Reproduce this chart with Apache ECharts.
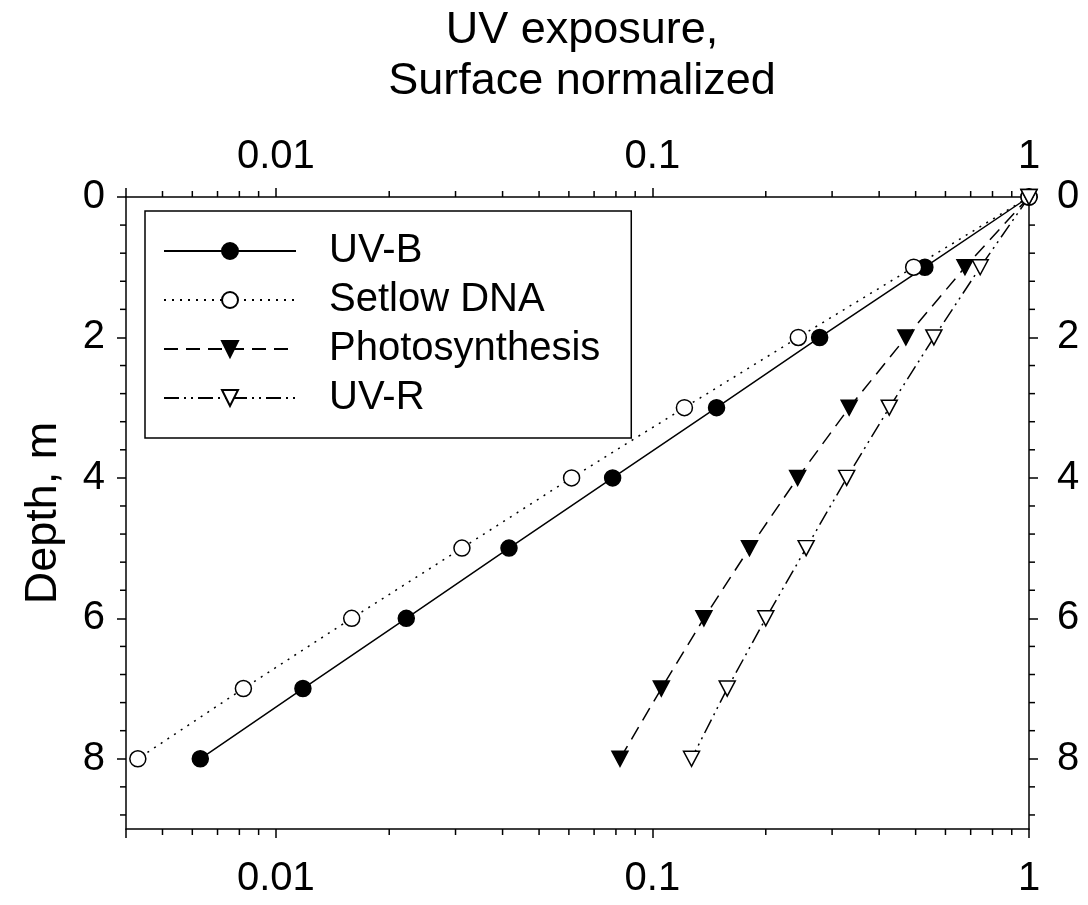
<!DOCTYPE html>
<html>
<head>
<meta charset="utf-8">
<title>UV exposure vs depth</title>
<script src="https://cdn.jsdelivr.net/npm/echarts@6/dist/echarts.min.js"></script>
<style>
  html, body { margin: 0; padding: 0; background: #fff; }
  #chart { width: 1088px; height: 905px; }
</style>
</head>
<body>
<div id="chart"></div>
<script>
// Depth below the surface (m) for every profile point
const depths = [0, 1, 2, 3, 4, 5, 6, 7, 8];

// Exposure relative to the surface value, one list per spectral weighting
const uvB = [1, 0.529, 0.278, 0.148, 0.0784, 0.0416, 0.0222, 0.0118, 0.0063];
const setlowDNA = [1, 0.494, 0.244, 0.1216, 0.061, 0.0312, 0.0159, 0.0082, 0.0043];
const photosynthesis = [1, 0.676, 0.471, 0.333, 0.243, 0.181, 0.137, 0.1056, 0.082];
const uvR = [1, 0.742, 0.559, 0.4255, 0.328, 0.256, 0.200, 0.158, 0.127];

const seriesNames = ['UV-B', 'Setlow DNA', 'Photosynthesis', 'UV-R'];

// Axis ranges and labelled ticks
const xMin = 0.004, xMax = 1;
const xTickValues = [0.01, 0.1, 1];
const xTickLabels = ['0.01', '0.1', '1'];
const yMin = 0, yMax = 9;
const yTickValues = [0, 2, 4, 6, 8];
const yTickLabels = ['0', '2', '4', '6', '8'];

// Unlabelled minor tick positions
const xMinorTicks = [];
[0.001, 0.01, 0.1].forEach(function (dec) {
  for (let k = 2; k <= 9; k++) {
    const v = +(k * dec).toPrecision(3);
    if (v > xMin && v < xMax && xTickValues.indexOf(v) < 0) xMinorTicks.push(v);
  }
});
const yMinorTicks = [];
for (let i = 1; i * 0.4 < yMax; i++) {
  if (i % 5 !== 0) yMinorTicks.push(+(i * 0.4).toFixed(1));
}

const FONT = '"Liberation Sans", Arial, Helvetica, sans-serif';
const BLACK = '#000';
const LINE_W = 1.5;
const TICK_FONT = 40;

function pairs(values) {
  return values.map(function (v, i) { return [v, depths[i]]; });
}

function xLabel(v) {
  for (let i = 0; i < xTickValues.length; i++) {
    if (Math.abs(Math.log10(v) - Math.log10(xTickValues[i])) < 1e-6) return xTickLabels[i];
  }
  return '';
}
function yLabel(v) {
  const i = yTickValues.indexOf(v);
  return i >= 0 ? yTickLabels[i] : '';
}

function makeXAxis(position, margin) {
  return {
    type: 'log',
    logBase: 10,
    position: position,
    min: xMin,
    max: xMax,
    axisLine: { show: true, onZero: false, lineStyle: { color: BLACK, width: LINE_W } },
    axisTick: { show: true, inside: false, length: 9, lineStyle: { color: BLACK, width: LINE_W } },
    minorTick: { show: false },
    axisLabel: {
      show: true, margin: margin, color: BLACK, fontSize: TICK_FONT, fontFamily: FONT,
      formatter: xLabel, showMinLabel: true, showMaxLabel: true, hideOverlap: false
    },
    splitLine: { show: false }
  };
}

function makeYAxis(position, margin, named) {
  const ax = {
    type: 'value',
    position: position,
    inverse: true,
    min: yMin,
    max: yMax,
    axisLine: { show: true, onZero: false, lineStyle: { color: BLACK, width: LINE_W } },
    axisTick: { show: true, inside: false, length: 9, customValues: yTickValues, lineStyle: { color: BLACK, width: LINE_W } },
    axisLabel: {
      show: true, margin: margin, color: BLACK, fontSize: TICK_FONT, fontFamily: FONT,
      customValues: yTickValues, formatter: yLabel
    },
    splitLine: { show: false }
  };
  if (named) {
    ax.name = 'Depth, m';
    ax.nameLocation = 'middle';
    ax.nameRotate = 90;
    ax.nameGap = 60;
    ax.nameTextStyle = { fontSize: 45, color: BLACK, fontFamily: FONT };
  }
  return ax;
}

function lineSeries(name, values, symbol, rotate, fill, dash) {
  return {
    name: name,
    type: 'line',
    data: pairs(values),
    xAxisIndex: 0,
    yAxisIndex: 0,
    symbol: symbol,
    symbolSize: symbol === 'circle' ? 16 : [16, 15],
    symbolRotate: rotate,
    showAllSymbol: true,
    clip: false,
    silent: true,
    animation: false,
    lineStyle: { color: BLACK, width: LINE_W, type: dash, cap: 'butt' },
    itemStyle: { color: fill, borderColor: BLACK, borderWidth: LINE_W, opacity: 1 },
    emphasis: { disabled: true },
    z: 3
  };
}

// Minor ticks drawn at positions given by the axes' own scales
const minorLen = 6;
const xMinorSeries = {
  type: 'custom',
  xAxisIndex: 0,
  yAxisIndex: 0,
  silent: true,
  animation: false,
  clip: false,
  data: xMinorTicks.map(function (v) { return [v, yMin]; }),
  renderItem: function (params, api) {
    const v = api.value(0);
    const t = api.coord([v, yMin]);
    const b = api.coord([v, yMax]);
    const st = { stroke: BLACK, lineWidth: LINE_W };
    return {
      type: 'group',
      children: [
        { type: 'line', shape: { x1: t[0], y1: t[1], x2: t[0], y2: t[1] - minorLen }, style: st },
        { type: 'line', shape: { x1: b[0], y1: b[1], x2: b[0], y2: b[1] + minorLen }, style: st }
      ]
    };
  },
  z: 1
};
const yMinorSeries = {
  type: 'custom',
  xAxisIndex: 0,
  yAxisIndex: 0,
  silent: true,
  animation: false,
  clip: false,
  data: yMinorTicks.map(function (d) { return [xMax, d]; }),
  renderItem: function (params, api) {
    const d = api.value(1);
    const l = api.coord([xMin, d]);
    const r = api.coord([xMax, d]);
    const st = { stroke: BLACK, lineWidth: LINE_W };
    return {
      type: 'group',
      children: [
        { type: 'line', shape: { x1: l[0], y1: l[1], x2: l[0] - minorLen, y2: l[1] }, style: st },
        { type: 'line', shape: { x1: r[0], y1: r[1], x2: r[0] + minorLen, y2: r[1] }, style: st }
      ]
    };
  },
  z: 1
};

const chart = echarts.init(document.getElementById('chart'), null, { renderer: 'canvas' });

chart.setOption({
  animation: false,
  backgroundColor: '#fff',
  title: {
    text: 'UV exposure,\nSurface normalized',
    left: 577,
    top: 0,
    textAlign: 'center',
    textStyle: { fontSize: 45, fontWeight: 'normal', color: BLACK, fontFamily: FONT, lineHeight: 51 }
  },
  grid: { left: 126, right: 59, top: 197, bottom: 76, containLabel: false },
  legend: {
    data: seriesNames,
    orient: 'vertical',
    left: 145,
    top: 211,
    selectedMode: false,
    itemWidth: 132,
    itemHeight: 20,
    itemGap: 9,
    padding: [20, 31, 20, 18],
    borderColor: BLACK,
    borderWidth: 1.5,
    backgroundColor: '#fff',
    textStyle: { fontSize: 40, color: BLACK, fontFamily: FONT, lineHeight: 40, padding: [0, 0, 0, 28] }
  },
  xAxis: [makeXAxis('bottom', 30), makeXAxis('top', 20)],
  yAxis: [makeYAxis('left', 21, true), makeYAxis('right', 28, false)],
  series: [
    lineSeries(seriesNames[0], uvB, 'circle', 0, BLACK, 'solid'),
    lineSeries(seriesNames[1], setlowDNA, 'circle', 0, '#fff', [2, 6]),
    lineSeries(seriesNames[2], photosynthesis, 'triangle', 180, BLACK, [14, 8]),
    lineSeries(seriesNames[3], uvR, 'triangle', 180, '#fff', [15, 5, 2, 5, 2, 5]),
    xMinorSeries,
    yMinorSeries
  ]
});
</script>
</body>
</html>
